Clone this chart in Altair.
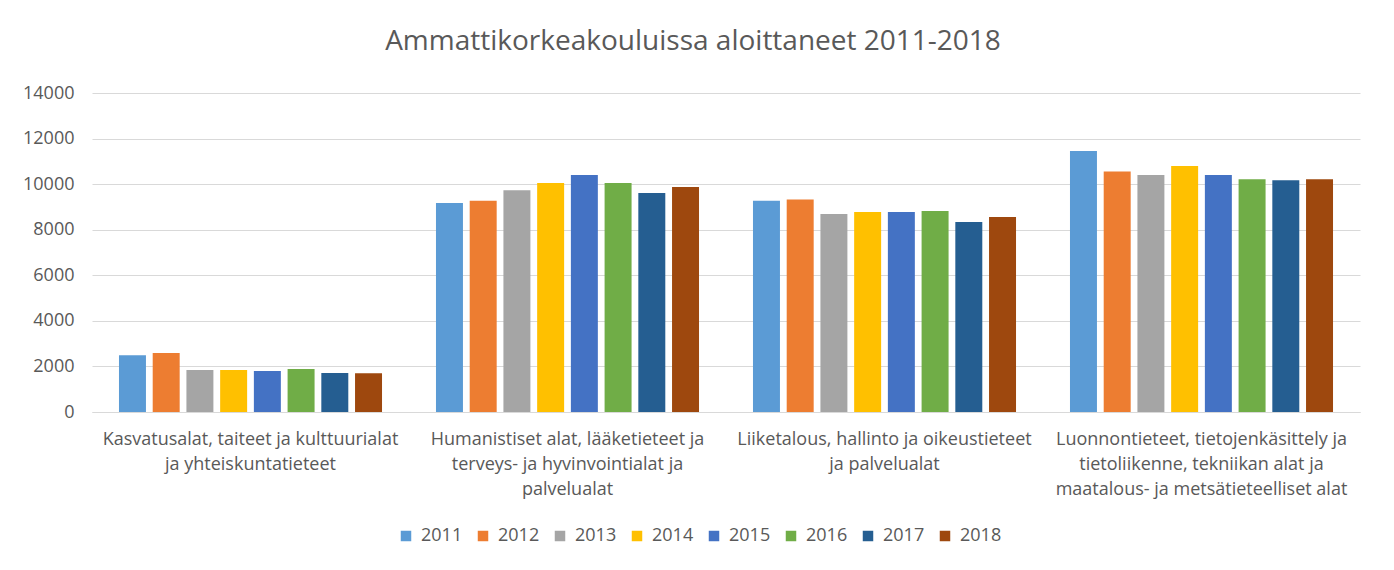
import altair as alt
import pandas as pd

categories = [
    "Kasvatusalat, taiteet ja kulttuurialat\nja yhteiskuntatieteet",
    "Humanistiset alat, lääketieteet ja\nterveys- ja hyvinvointialat ja\npalvelualat",
    "Liiketalous, hallinto ja oikeustieteet\nja palvelualat",
    "Luonnontieteet, tietojenkäsittely ja\ntietoliikenne, tekniikan alat ja\nmaatalous- ja metsätieteelliset alat",
]
years = ["2011", "2012", "2013", "2014", "2015", "2016", "2017", "2018"]
v2011 = [2490, 9170, 9270, 11450]
v2012 = [2590, 9270, 9330, 10560]
v2013 = [1840, 9730, 8690, 10400]
v2014 = [1840, 10050, 8780, 10800]
v2015 = [1800, 10400, 8780, 10400]
v2016 = [1890, 10050, 8820, 10220]
v2017 = [1710, 9610, 8340, 10170]
v2018 = [1700, 9870, 8560, 10220]
colors = ["#5B9BD5", "#ED7D31", "#A5A5A5", "#FFC000", "#4472C4", "#70AD47", "#255E91", "#9E480E"]

series = [v2011, v2012, v2013, v2014, v2015, v2016, v2017, v2018]
rows = []
for y, vals in zip(years, series):
    for c, v in zip(categories, vals):
        rows.append({"ala": c, "vuosi": y, "aloittaneet": v})
df = pd.DataFrame(rows)

FONT = "Open Sans"
GREY = "#595959"

chart = alt.Chart(df).mark_bar().encode(
    x=alt.X("ala:N", sort=categories, title=None,
            scale=alt.Scale(paddingInner=0, paddingOuter=0),
            axis=alt.Axis(labelExpr="split(datum.label, '\\n')", labelAngle=0,
                          labelFontSize=18, labelColor=GREY, labelFont=FONT,
                          labelLineHeight=25, labelPadding=18, labelBaseline="top",
                          ticks=False, domain=True, domainColor="#d9d9d9",
                          grid=False, labelLimit=0)),
    xOffset=alt.XOffset("vuosi:N", sort=years,
                        scale=alt.Scale(paddingInner=0.2, paddingOuter=0.8)),
    y=alt.Y("aloittaneet:Q", title=None,
            scale=alt.Scale(domain=[0, 14000]),
            axis=alt.Axis(values=list(range(0, 14001, 2000)), format="d",
                          labelFontSize=18, labelColor=GREY, labelFont=FONT,
                          labelPadding=18, ticks=False, domain=False,
                          gridColor="#d9d9d9", gridWidth=1)),
    color=alt.Color("vuosi:N", sort=years,
                    scale=alt.Scale(domain=years, range=colors),
                    legend=alt.Legend(title=None, orient="none", direction="horizontal",
                                      columns=8, legendX=305, legendY=434,
                                      symbolType="square", symbolSize=110,
                                      symbolStrokeWidth=0, labelFontSize=18,
                                      labelFont=FONT, labelColor=GREY,
                                      labelOffset=6, columnPadding=11)),
).properties(
    width=1268,
    height=319,
    title=alt.TitleParams("Ammattikorkeakouluissa aloittaneet 2011-2018",
                          fontSize=28, font=FONT, fontWeight="normal",
                          color=GREY, offset=28, dx=-33, anchor="middle"),
    autosize=alt.AutoSizeParams(type="none"),
    padding={"left": 84, "top": 85, "right": 26, "bottom": 150},
).configure(background="white").configure_view(stroke=None)

chart.save("out.html", embed_options={"renderer": "svg", "actions": False})
